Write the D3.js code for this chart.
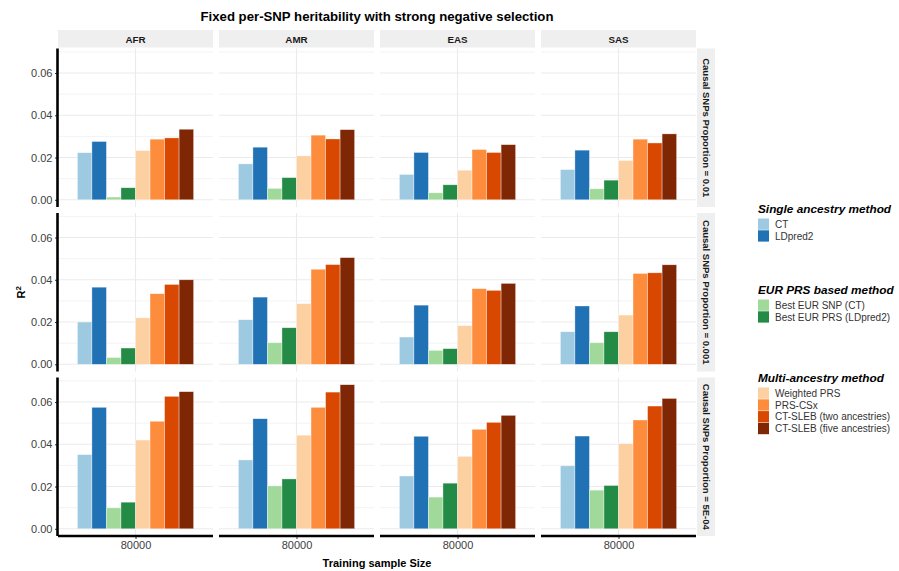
<!DOCTYPE html>
<html>
<head>
<meta charset="utf-8">
<script src="https://cdn.jsdelivr.net/npm/d3@7"></script>
<style>
  body { margin: 0; background: #fff; }
  svg { font-family: "Liberation Sans", Arial, Helvetica, sans-serif; }
</style>
</head>
<body>
<svg id="chart" width="899" height="571"></svg>
<script>
// Data
var ancestries = ["AFR", "AMR", "EAS", "SAS"];
var proportions = ["Causal SNPs Proportion = 0.01",
                   "Causal SNPs Proportion = 0.001",
                   "Causal SNPs Proportion = 5E-04"];
var methods = ["CT", "LDpred2", "Best EUR SNP (CT)", "Best EUR PRS (LDpred2)",
               "Weighted PRS", "PRS-CSx", "CT-SLEB (two ancestries)", "CT-SLEB (five ancestries)"];
var methodColors = ["#9ecae1", "#2171b5", "#a1d99b", "#238b45",
                    "#fdd0a2", "#fd8d3c", "#d94801", "#7f2704"];
var trainingSize = ["80000"];
var yTicks = [0, 0.02, 0.04, 0.06];
var yMinor = [0.01, 0.03, 0.05, 0.07];

// one row per ancestry (AFR, AMR, EAS, SAS), values in method order
var r2Prop0_01 = [
    [0.0223, 0.0276, 0.0013, 0.0057, 0.0233, 0.0287, 0.0293, 0.0334],
    [0.0170, 0.0249, 0.0054, 0.0105, 0.0208, 0.0306, 0.0288, 0.0332],
    [0.0120, 0.0224, 0.0033, 0.0071, 0.0140, 0.0238, 0.0224, 0.0261],
    [0.0143, 0.0235, 0.0052, 0.0093, 0.0186, 0.0287, 0.0269, 0.0312]
];
var r2Prop0_001 = [
    [0.0200, 0.0365, 0.0032, 0.0077, 0.0220, 0.0334, 0.0378, 0.0400],
    [0.0211, 0.0318, 0.0102, 0.0173, 0.0287, 0.0450, 0.0472, 0.0505],
    [0.0129, 0.0280, 0.0066, 0.0074, 0.0183, 0.0358, 0.0350, 0.0383],
    [0.0154, 0.0276, 0.0102, 0.0154, 0.0233, 0.0430, 0.0433, 0.0471]
];
var r2Prop5e_4 = [
    [0.0351, 0.0575, 0.0099, 0.0126, 0.0420, 0.0509, 0.0627, 0.0649],
    [0.0326, 0.0521, 0.0203, 0.0236, 0.0443, 0.0575, 0.0647, 0.0682],
    [0.0250, 0.0438, 0.0150, 0.0216, 0.0343, 0.0471, 0.0504, 0.0537],
    [0.0298, 0.0439, 0.0183, 0.0205, 0.0403, 0.0515, 0.0581, 0.0617]
];
var allRows = [r2Prop0_01, r2Prop0_001, r2Prop5e_4];

var legendGroups = [
    {title: "Single ancestry method", items: [0, 1], y: 208},
    {title: "EUR PRS based method", items: [2, 3], y: 289},
    {title: "Multi-ancestry method", items: [4, 5, 6, 7], y: 377}
];

// Layout
var svg = d3.select("#chart");
var panelLeft = 58, panelTop = 48.5, pw = 155, ph = 158.5, gap = 6;

var color = d3.scaleOrdinal().domain(methods).range(methodColors);

// ggplot-like expansion: 5% of data range each side
var maxVal = d3.max(allRows, r => d3.max(r, a => d3.max(a)));
var pad = maxVal * 0.05;
var y = d3.scaleLinear().domain([-pad, maxVal + pad]).range([ph, 0]);
var xOuter = d3.scaleLinear().domain([0.4, 1.6]).range([0, pw]);
var xInner = d3.scaleBand().domain(methods).range([xOuter(0.55), xOuter(1.45)]);

// title
svg.append("text")
    .attr("x", panelLeft + (4 * pw + 3 * gap) / 2)
    .attr("y", 21)
    .attr("text-anchor", "middle")
    .attr("font-size", 13.2)
    .attr("font-weight", "bold")
    .attr("fill", "#000")
    .text("Fixed per-SNP heritability with strong negative selection");

// top strips
ancestries.forEach((anc, ci) => {
    var sx = panelLeft + ci * (pw + gap);
    svg.append("rect")
        .attr("x", sx).attr("y", 30)
        .attr("width", pw).attr("height", 17.5)
        .attr("fill", "#efefef");
    svg.append("text")
        .attr("x", sx + pw / 2).attr("y", 42.5)
        .attr("text-anchor", "middle")
        .attr("font-size", 9.8)
        .attr("font-weight", "bold")
        .attr("fill", "#1a1a1a")
        .text(anc);
});

allRows.forEach((rowData, ri) => {
    var py = panelTop + ri * (ph + gap);

    // right strip
    svg.append("rect")
        .attr("x", panelLeft + 4 * pw + 3 * gap + 1).attr("y", py)
        .attr("width", 18).attr("height", ph)
        .attr("fill", "#efefef");
    svg.append("text")
        .attr("transform", "translate(" + (panelLeft + 4 * pw + 3 * gap + 6.5) + "," + (py + ph / 2) + ") rotate(90)")
        .attr("text-anchor", "middle")
        .attr("font-size", 9.5)
        .attr("font-weight", "bold")
        .attr("fill", "#1a1a1a")
        .text(proportions[ri]);

    rowData.forEach((vals, ci) => {
        var g = svg.append("g")
            .attr("transform", "translate(" + (panelLeft + ci * (pw + gap)) + "," + py + ")");

        g.selectAll("line.minor").data(yMinor).enter().append("line")
            .attr("class", "minor")
            .attr("x1", 0).attr("x2", pw)
            .attr("y1", d => y(d)).attr("y2", d => y(d))
            .attr("stroke", "#f3f3f3").attr("stroke-width", 1);
        g.selectAll("line.major").data(yTicks).enter().append("line")
            .attr("class", "major")
            .attr("x1", 0).attr("x2", pw)
            .attr("y1", d => y(d)).attr("y2", d => y(d))
            .attr("stroke", "#ebebeb").attr("stroke-width", 1.1);
        g.append("line")
            .attr("x1", xOuter(1)).attr("x2", xOuter(1))
            .attr("y1", 0).attr("y2", ph)
            .attr("stroke", "#ebebeb").attr("stroke-width", 1.1);

        g.selectAll("rect.bar").data(vals).enter().append("rect")
            .attr("class", "bar")
            .attr("x", (d, i) => xInner(methods[i]))
            .attr("width", xInner.bandwidth())
            .attr("y", d => y(d))
            .attr("height", d => y(0) - y(d))
            .attr("fill", (d, i) => color(methods[i]))
            .attr("stroke", "#ffffff").attr("stroke-opacity", 0.6)
            .attr("stroke-width", 0.6);

        // left axis on first column
        if (ci == 0) {
            var ax = g.append("g")
                .call(d3.axisLeft(y).tickValues(yTicks).tickFormat(d3.format(".2f")).tickSize(3).tickPadding(2.5));
            ax.select(".domain").remove();
            ax.selectAll(".tick line").attr("stroke", "#333");
            ax.selectAll(".tick text").attr("font-size", 11).attr("fill", "#404040")
                .attr("font-family", "Liberation Sans, Arial, sans-serif");
            g.append("line")
                .attr("x1", -0.5).attr("x2", -0.5)
                .attr("y1", 0).attr("y2", ph)
                .attr("stroke", "#000").attr("stroke-width", 2.6);
        }

        // bottom axis on last row
        if (ri == allRows.length - 1) {
            var bx = g.append("g")
                .attr("transform", "translate(0," + ph + ")")
                .call(d3.axisBottom(d3.scalePoint().domain(trainingSize).range([xOuter(1), xOuter(1)]))
                    .tickSize(3).tickPadding(2));
            bx.select(".domain").remove();
            bx.selectAll(".tick line").attr("stroke", "#333");
            bx.selectAll(".tick text").attr("font-size", 11).attr("fill", "#404040")
                .attr("font-family", "Liberation Sans, Arial, sans-serif");
            g.append("line")
                .attr("x1", 0).attr("x2", pw)
                .attr("y1", ph).attr("y2", ph)
                .attr("stroke", "#000").attr("stroke-width", 2.6);
        }
    });
});

// axis titles
svg.append("text")
    .attr("x", panelLeft + (4 * pw + 3 * gap) / 2)
    .attr("y", 567)
    .attr("text-anchor", "middle")
    .attr("font-size", 11)
    .attr("font-weight", "bold")
    .text("Training sample Size");

var yt = svg.append("text")
    .attr("transform", "translate(25," + (panelTop + (3 * ph + 2 * gap) / 2) + ") rotate(-90)")
    .attr("text-anchor", "middle")
    .attr("font-size", 11)
    .attr("font-weight", "bold");
yt.append("tspan").text("R");
yt.append("tspan").attr("dy", -4).attr("font-size", 8).text("2");

// legend
legendGroups.forEach(grp => {
    var lg = svg.append("g").attr("transform", "translate(758," + grp.y + ")");
    lg.append("text")
        .attr("x", 0).attr("y", 4.5)
        .attr("font-size", 11.8)
        .attr("font-weight", "bold")
        .attr("font-style", "italic")
        .text(grp.title);
    grp.items.forEach((mi, k) => {
        lg.append("rect")
            .attr("x", 0).attr("y", 10.5 + k * 11.8)
            .attr("width", 11).attr("height", 11.3)
            .attr("fill", color(methods[mi]));
        lg.append("text")
            .attr("x", 17).attr("y", 10.5 + k * 11.8 + 9.3)
            .attr("font-size", 10)
            .attr("fill", "#333")
            .text(methods[mi]);
    });
});
</script>
</body>
</html>
